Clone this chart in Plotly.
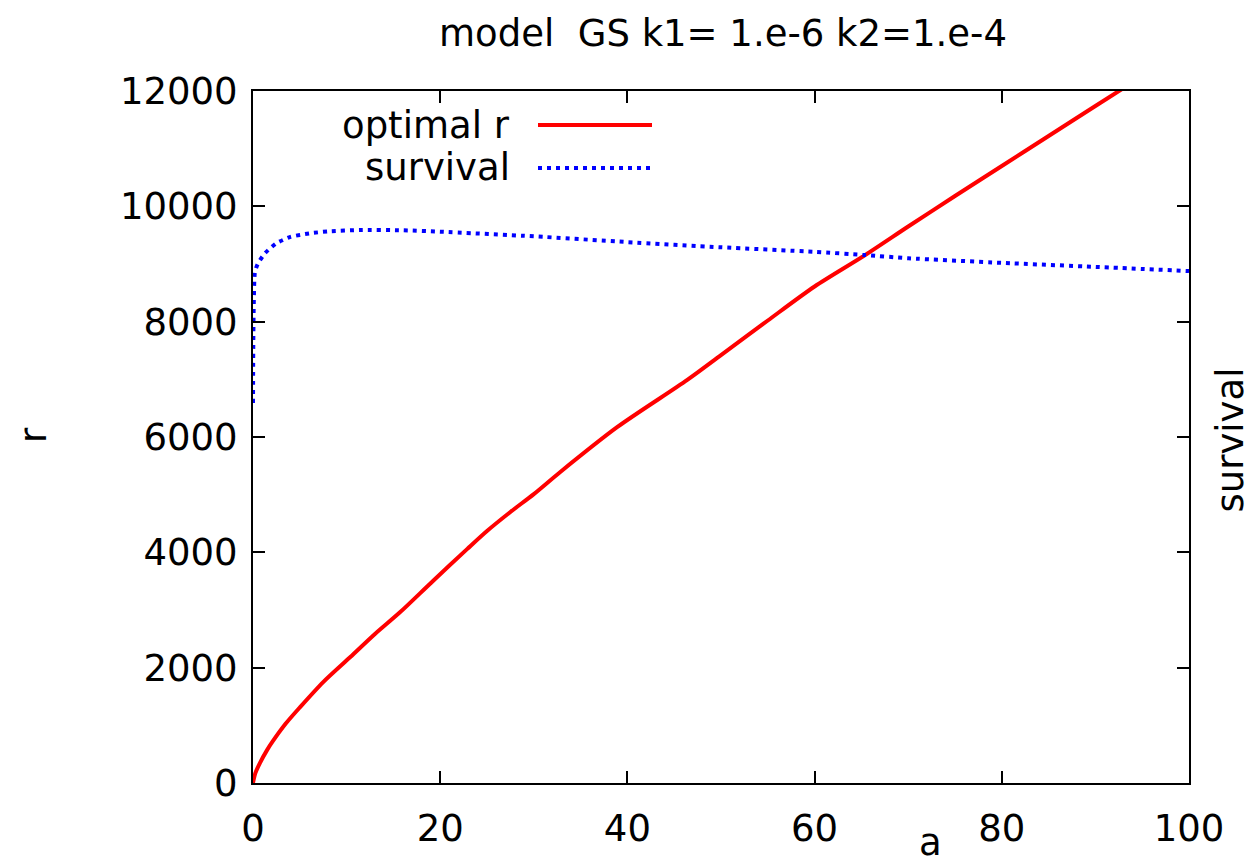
import plotly.graph_objects as go

# optimal r
a_r = [0, 0.25, 0.75, 1.5, 2.1, 3.5, 5, 7.5, 10.4, 13, 15.7, 19.2, 22.9, 25, 27.5, 30, 32.8, 38.9, 46.4, 50, 55, 60, 65.4, 70, 75, 80, 85, 90, 93]
r_opt = [0, 170, 350, 570, 720, 1030, 1310, 1750, 2185, 2580, 2960, 3500, 4060, 4370, 4700, 5010, 5390, 6170, 6990, 7420, 8020, 8610, 9155, 9650, 10180, 10700, 11220, 11740, 12050]

# survival (plotted on the right axis, no tick labels)
a_s = [0, 0.03, 0.08, 0.2, 0.5, 1.3, 2.5, 4, 6, 8, 11.4, 16, 20, 30, 40, 50, 60, 65.4, 70, 80, 90, 100]
surv = [6590, 7600, 8300, 8850, 9000, 9190, 9360, 9470, 9530, 9565, 9589, 9585, 9560, 9480, 9380, 9290, 9210, 9155, 9100, 9020, 8950, 8878]

x_ticks = [0, 20, 40, 60, 80, 100]
y_ticks = [0, 2000, 4000, 6000, 8000, 10000, 12000]

FONT = "DejaVu Sans, Arial, sans-serif"
FS = 37

fig = go.Figure()
fig.add_trace(go.Scatter(x=a_r, y=r_opt, mode="lines", name="optimal r",
                         line=dict(color="#ff0000", width=4, shape="spline", smoothing=0.8),
                         showlegend=False))
fig.add_trace(go.Scatter(x=a_s, y=surv, mode="lines", name="survival", yaxis="y2",
                         line=dict(color="#0000ff", width=4, dash="4px,5px", shape="spline", smoothing=0.6),
                         showlegend=False))

fig.update_layout(
    width=1254, height=866,
    margin=dict(l=253, r=65, t=91, b=83),
    paper_bgcolor="white", plot_bgcolor="white",
    font=dict(family=FONT, size=FS, color="black"),
    title=dict(text="model  GS k1= 1.e-6 k2=1.e-4", x=723 / 1254, xanchor="center",
               y=1 - 33 / 866, yanchor="middle", font=dict(size=FS)),
    xaxis=dict(range=[0, 100], tickvals=x_ticks, ticktext=[str(v) for v in x_ticks],
               ticks="inside", ticklen=12, tickcolor="black",
               tickwidth=1.5, showline=True, linecolor="black", linewidth=2, mirror="ticks",
               showgrid=False, zeroline=False, ticklabelstandoff=12),
    yaxis=dict(range=[0, 12000], tickvals=y_ticks, ticktext=[str(v) for v in y_ticks],
               ticks="inside", ticklen=12, tickcolor="black",
               tickwidth=1.5, showline=True, linecolor="black", linewidth=2, mirror="ticks",
               showgrid=False, zeroline=False, ticklabelstandoff=6),
    yaxis2=dict(range=[0, 12000], overlaying="y", side="right", showticklabels=False,
                showgrid=False, zeroline=False, showline=False, ticks=""),
    showlegend=False,
)

# axis labels in gnuplot-like positions
fig.add_annotation(text="a", xref="paper", yref="paper", x=(930 - 253) / 936, y=-(866 - 783) / 692,
                   showarrow=False, xanchor="center", yanchor="bottom", font=dict(size=FS))
fig.add_annotation(text="r", xref="paper", yref="paper", x=-(253 - 33) / 936, y=(783 - 435) / 692,
                   showarrow=False, textangle=-90, xanchor="center", yanchor="middle", font=dict(size=FS))
fig.add_annotation(text="survival", xref="paper", yref="paper", x=1 + (1253 - 1189) / 936, y=(783 - 440) / 692,
                   showarrow=False, textangle=-90, xanchor="right", yanchor="middle", font=dict(size=FS))

# gnuplot-style key: right-aligned text, sample line to the right
key = [("optimal r", 125, dict(color="#ff0000", width=4)),
       ("survival", 168, dict(color="#0000ff", width=4, dash="4px,5px"))]
for label, ypx, ln in key:
    yp = (783 - ypx) / 692
    fig.add_annotation(text=label, xref="paper", yref="paper", x=(512 - 253) / 936, y=yp,
                       showarrow=False, xanchor="right", yanchor="middle", font=dict(size=FS))
    fig.add_shape(type="line", xref="paper", yref="paper", x0=(538 - 253) / 936, x1=(652 - 253) / 936,
                  y0=yp, y1=yp, line=ln)

fig.write_html("out.html")
